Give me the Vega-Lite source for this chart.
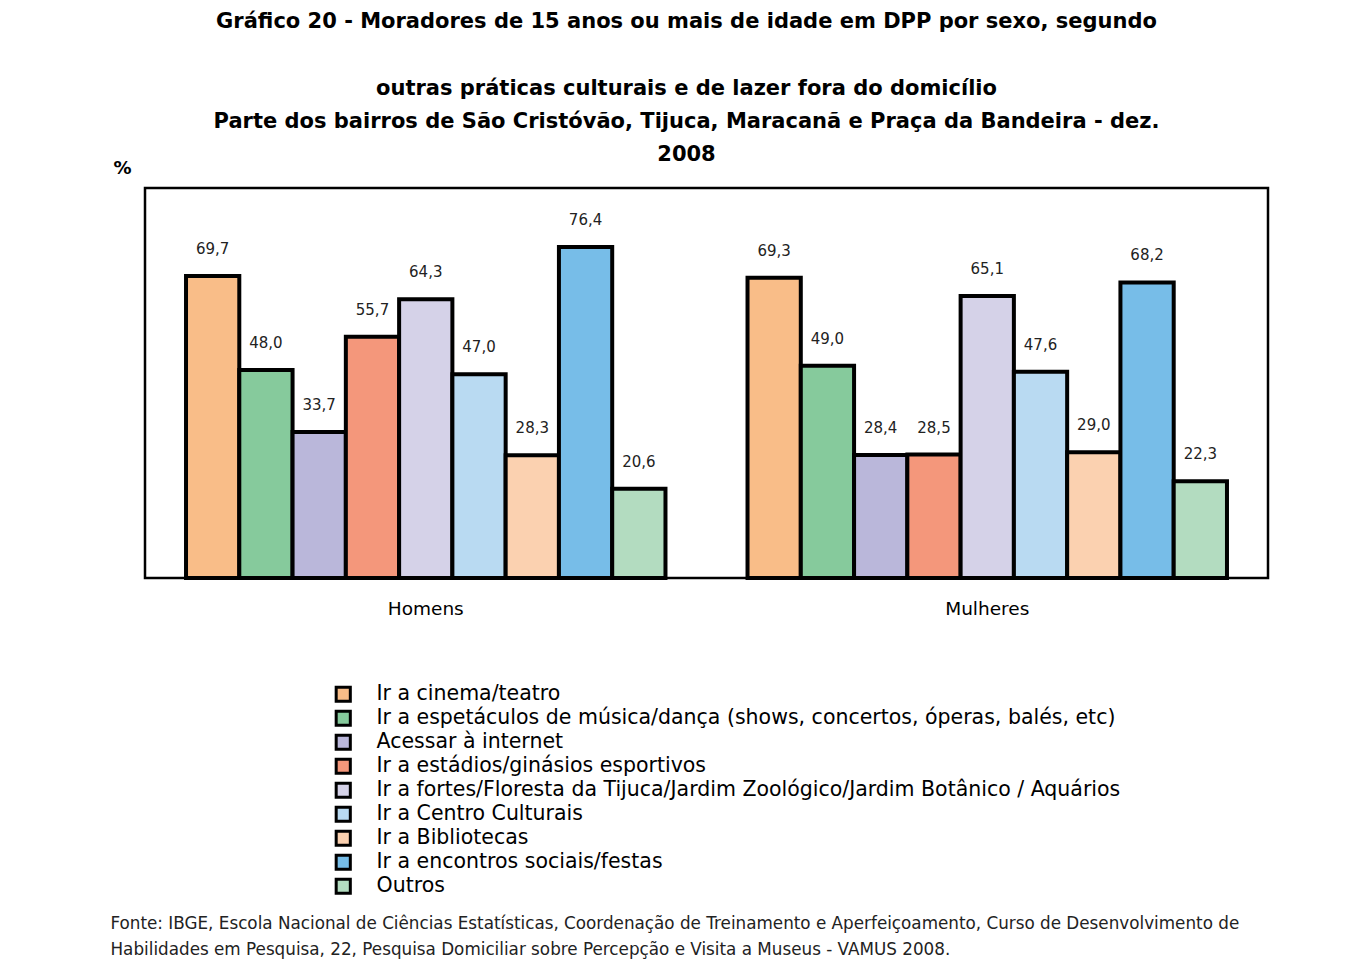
{
  "$schema": "https://vega.github.io/schema/vega-lite/v6.json",
  "autosize": {"type": "none"},
  "width": 1123,
  "height": 390,
  "padding": {"left": 145, "top": 188, "right": 100, "bottom": 387},
  "background": "white",
  "config": {
    "font": "DejaVu Sans",
    "view": {"stroke": "black", "strokeWidth": 2.5},
    "locale": {"number": {"decimal": ",", "thousands": ".", "grouping": [3], "currency": ["R$", ""]}}
  },
  "title": {
    "text": "Gráfico 20 - Moradores de 15 anos ou mais de idade em DPP por sexo, segundo",
    "subtitle": [
      "outras práticas culturais e de lazer fora do domicílio",
      "Parte dos bairros de São Cristóvão, Tijuca, Maracanã e Praça da Bandeira -  dez.",
      "2008"
    ],
    "anchor": "middle",
    "frame": "group",
    "dx": -20,
    "dy": 28,
    "fontSize": 21,
    "fontWeight": "bold",
    "color": "black",
    "subtitleFontSize": 21,
    "subtitleFontWeight": "bold",
    "subtitleColor": "black",
    "subtitleLineHeight": 33,
    "subtitlePadding": 46,
    "offset": 22
  },
  "data": {
    "values": [
      {"sexo": "Homens", "pratica": "Ir a cinema/teatro", "valor": 69.7},
      {"sexo": "Homens", "pratica": "Ir a espetáculos de música/dança (shows, concertos, óperas, balés, etc)", "valor": 48.0},
      {"sexo": "Homens", "pratica": "Acessar à internet", "valor": 33.7},
      {"sexo": "Homens", "pratica": "Ir a estádios/ginásios esportivos", "valor": 55.7},
      {"sexo": "Homens", "pratica": "Ir a fortes/Floresta da Tijuca/Jardim Zoológico/Jardim Botânico / Aquários", "valor": 64.3},
      {"sexo": "Homens", "pratica": "Ir a Centro Culturais", "valor": 47.0},
      {"sexo": "Homens", "pratica": "Ir a Bibliotecas", "valor": 28.3},
      {"sexo": "Homens", "pratica": "Ir a encontros sociais/festas", "valor": 76.4},
      {"sexo": "Homens", "pratica": "Outros", "valor": 20.6},
      {"sexo": "Mulheres", "pratica": "Ir a cinema/teatro", "valor": 69.3},
      {"sexo": "Mulheres", "pratica": "Ir a espetáculos de música/dança (shows, concertos, óperas, balés, etc)", "valor": 49.0},
      {"sexo": "Mulheres", "pratica": "Acessar à internet", "valor": 28.4},
      {"sexo": "Mulheres", "pratica": "Ir a estádios/ginásios esportivos", "valor": 28.5},
      {"sexo": "Mulheres", "pratica": "Ir a fortes/Floresta da Tijuca/Jardim Zoológico/Jardim Botânico / Aquários", "valor": 65.1},
      {"sexo": "Mulheres", "pratica": "Ir a Centro Culturais", "valor": 47.6},
      {"sexo": "Mulheres", "pratica": "Ir a Bibliotecas", "valor": 29.0},
      {"sexo": "Mulheres", "pratica": "Ir a encontros sociais/festas", "valor": 68.2},
      {"sexo": "Mulheres", "pratica": "Outros", "valor": 22.3}
    ]
  },
  "encoding": {
    "x": {
      "field": "sexo",
      "type": "nominal",
      "scale": {"paddingInner": 0, "paddingOuter": 0},
      "axis": {
        "labelAngle": 0,
        "labelFontSize": 18.5,
        "labelColor": "black",
        "labelPadding": 21,
        "domain": false,
        "ticks": false,
        "title": [
          "Fonte: IBGE, Escola Nacional de Ciências Estatísticas, Coordenação de Treinamento e Aperfeiçoamento, Curso de Desenvolvimento de",
          "Habilidades em Pesquisa, 22, Pesquisa Domiciliar sobre Percepção e Visita a Museus - VAMUS 2008."
        ],
        "titleFontSize": 16.8,
        "titleFontWeight": "normal",
        "titleColor": "#222",
        "titleAnchor": "start",
        "titleAlign": "left",
        "titleBaseline": "top",
        "titleLineHeight": 26,
        "titleX": -35,
        "titleY": 337
      }
    },
    "xOffset": {
      "field": "pratica",
      "type": "nominal",
      "sort": [
        "Ir a cinema/teatro",
        "Ir a espetáculos de música/dança (shows, concertos, óperas, balés, etc)",
        "Acessar à internet",
        "Ir a estádios/ginásios esportivos",
        "Ir a fortes/Floresta da Tijuca/Jardim Zoológico/Jardim Botânico / Aquários",
        "Ir a Centro Culturais",
        "Ir a Bibliotecas",
        "Ir a encontros sociais/festas",
        "Outros"
      ],
      "scale": {"paddingInner": 0, "paddingOuter": 0.77}
    },
    "y": {
      "field": "valor",
      "type": "quantitative",
      "scale": {"domain": [0, 90], "nice": false},
      "axis": {
        "labels": false,
        "ticks": false,
        "domain": false,
        "grid": false,
        "title": "%",
        "titleAngle": 0,
        "titleFontSize": 18,
        "titleFontWeight": "bold",
        "titleColor": "black",
        "titleX": -23,
        "titleY": -20,
        "titleAlign": "center",
        "titleBaseline": "middle"
      }
    }
  },
  "layer": [
    {
      "mark": {"type": "bar", "stroke": "black", "strokeWidth": 4, "opacity": 1},
      "encoding": {
        "color": {
          "field": "pratica",
          "type": "nominal",
          "scale": {
            "domain": [
              "Ir a cinema/teatro",
              "Ir a espetáculos de música/dança (shows, concertos, óperas, balés, etc)",
              "Acessar à internet",
              "Ir a estádios/ginásios esportivos",
              "Ir a fortes/Floresta da Tijuca/Jardim Zoológico/Jardim Botânico / Aquários",
              "Ir a Centro Culturais",
              "Ir a Bibliotecas",
              "Ir a encontros sociais/festas",
              "Outros"
            ],
            "range": ["#F9BD88", "#86CA9C", "#BAB7DA", "#F4977B", "#D5D2E8", "#B9DAF2", "#FBD1B0", "#77BDE8", "#B3DCC0"]
          },
          "legend": {
            "title": null,
            "orient": "none",
            "legendX": 188,
            "legendY": 496,
            "direction": "vertical",
            "symbolType": "square",
            "symbolSize": 200,
            "symbolStrokeColor": "black",
            "symbolStrokeWidth": 3,
            "symbolOpacity": 1,
            "labelFontSize": 20.5,
            "labelColor": "black",
            "labelOffset": 23,
            "labelLimit": 1000,
            "rowPadding": -4.8
          }
        }
      }
    },
    {
      "mark": {"type": "text", "baseline": "bottom", "dy": -19, "fontSize": 15, "color": "#222"},
      "encoding": {
        "text": {"field": "valor", "type": "quantitative", "format": ".1f"}
      }
    }
  ]
}
